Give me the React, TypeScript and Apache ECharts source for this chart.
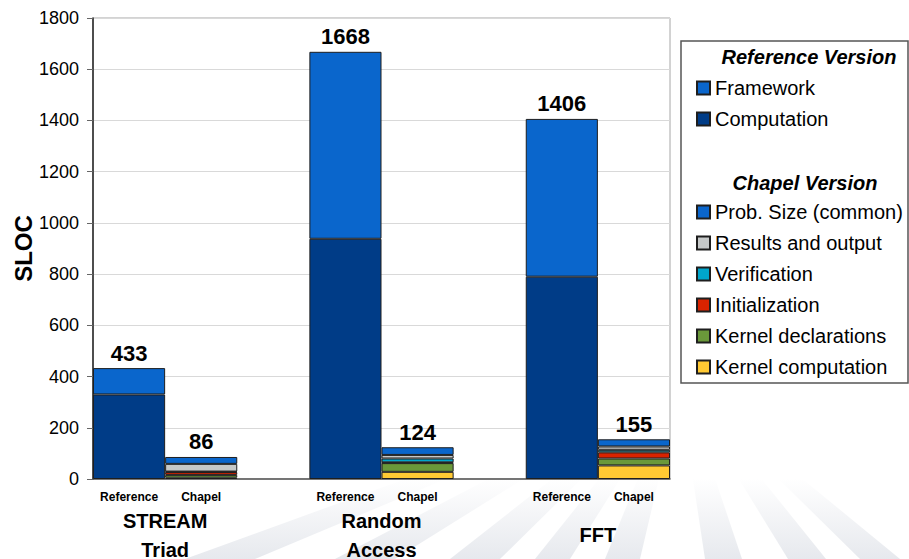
import React, { useEffect, useRef } from "react";
import * as echarts from "echarts";

// ---- data ----
const slotLabels = ["Reference", "Chapel", "", "Reference", "Chapel", "", "Reference", "Chapel"];
const groupNames = ["STREAM\nTriad", "Random\nAccess", "FFT"];
const groupTickValues = [1, 4, 7];
const yMin = 0;
const yMax = 1800;
const yStep = 200;

const refComputation = [330, 938, 790];
const refFramework = [103, 730, 616];

const chapelKernelComputation = [5, 28, 53];
const chapelKernelDeclarations = [11, 34, 27];
const chapelInitialization = [11, 3, 24];
const chapelVerification = [2, 15, 10];
const chapelResults = [30, 14, 13];
const chapelProbSize = [27, 30, 28];

const refLegend = ["Framework", "Computation"];
const chapelLegend = [
  "Prob. Size (common)",
  "Results and output",
  "Verification",
  "Initialization",
  "Kernel declarations",
  "Kernel computation",
];

const FONT = "'Liberation Sans', Arial, Helvetica, sans-serif";

const refTotals = refComputation.map((v, i) => v + refFramework[i]);
const chapelTotals = chapelProbSize.map(
  (v, i) =>
    v +
    chapelResults[i] +
    chapelVerification[i] +
    chapelInitialization[i] +
    chapelKernelDeclarations[i] +
    chapelKernelComputation[i]
);

const toSlots = (vals: number[], offset: number) => {
  const arr: (number | string)[] = slotLabels.map(() => "-");
  vals.forEach((v, g) => {
    arr[g * 3 + offset] = v;
  });
  return arr;
};

const rays: [number, number][] = [
  [185, 255],
  [335, 395],
  [450, 500],
  [535, 570],
  [605, 640],
  [705, 742],
  [788, 826],
  [860, 900],
];

export default function App() {
  const ref = useRef<HTMLDivElement>(null);
  useEffect(() => {
    if (!ref.current) return;
    const chart = echarts.init(ref.current, undefined, { renderer: "svg" });

    const border = { borderColor: "#1e1e1e", borderWidth: 1 };
    const totalLabel = (totals: number[]) => ({
      show: true,
      position: "top",
      distance: 4,
      fontFamily: FONT,
      fontSize: 22,
      fontWeight: "bold",
      color: "#000",
      formatter: (p: any) => String(totals[Math.floor(p.dataIndex / 3)]),
    });

    const mk = (name: string, vals: number[], offset: number, color: string, label?: any) => ({
      name,
      type: "bar",
      stack: "total",
      xAxisIndex: 0,
      barCategoryGap: "0%",
      data: toSlots(vals, offset),
      itemStyle: { color, ...border },
      label: label || { show: false },
      emphasis: { disabled: true },
    });

    const rayFill = {
      type: "linear",
      x: 0,
      y: 0,
      x2: 0,
      y2: 1,
      colorStops: [
        { offset: 0, color: "rgba(214,218,226,0)" },
        { offset: 0.55, color: "rgba(214,218,226,0)" },
        { offset: 1, color: "rgba(214,218,226,0.6)" },
      ],
    };

    const legendText = { fontFamily: FONT, fontSize: 20, color: "#000", lineHeight: 20 };

    const option: any = {
      animation: false,
      backgroundColor: "#fff",
      textStyle: { fontFamily: FONT },
      grid: {
        left: 93,
        right: 239,
        top: 18,
        bottom: 80,
        containLabel: false,
        outerBoundsMode: "none",
        show: true,
        backgroundColor: "#fff",
        borderColor: "#a6a6a6",
        borderWidth: 1,
      },
      legend: [
        {
          data: refLegend,
          orient: "vertical",
          left: 696,
          top: 78,
          padding: 0,
          itemGap: 11,
          itemWidth: 13,
          itemHeight: 13,
          icon: "rect",
          selectedMode: false,
          textStyle: legendText,
        },
        {
          data: chapelLegend,
          orient: "vertical",
          left: 696,
          top: 202,
          padding: 0,
          itemGap: 11,
          itemWidth: 13,
          itemHeight: 13,
          icon: "rect",
          selectedMode: false,
          textStyle: legendText,
        },
      ],
      xAxis: [
        {
          type: "category",
          data: slotLabels,
          axisLine: { lineStyle: { color: "#555", width: 1.5 } },
          axisTick: { show: false },
          axisLabel: {
            interval: 0,
            margin: 12,
            fontFamily: FONT,
            fontSize: 12,
            fontWeight: "bold",
            color: "#000",
          },
        },
        {
          type: "value",
          position: "bottom",
          min: 0,
          max: slotLabels.length,
          interval: 1,
          axisLine: { show: false },
          axisTick: { show: false },
          splitLine: { show: false },
          axisLabel: {
            margin: 27,
            fontFamily: FONT,
            fontSize: 20,
            fontWeight: "bold",
            color: "#000",
            lineHeight: 29,
            showMinLabel: true,
            showMaxLabel: true,
            formatter: (v: number) => {
              const i = groupTickValues.indexOf(Math.round(v));
              if (i < 0) return "";
              const name = groupNames[i];
              return name.indexOf("\n") >= 0 ? name : "{f|" + name + "}";
            },
            rich: {
              f: { fontFamily: FONT, fontSize: 20, fontWeight: "bold", color: "#000", lineHeight: 58 },
            },
          },
        },
      ],
      yAxis: {
        type: "value",
        min: yMin,
        max: yMax,
        interval: yStep,
        name: "SLOC",
        nameLocation: "middle",
        nameRotate: 90,
        nameGap: 58,
        nameMoveOverlap: false,
        nameTextStyle: { fontFamily: FONT, fontSize: 24, fontWeight: "bold", color: "#000" },
        axisLine: { show: true, lineStyle: { color: "#222", width: 1.5 } },
        axisTick: { show: true, length: 6, lineStyle: { color: "#666" } },
        axisLabel: {
          margin: 14,
          fontFamily: FONT,
          fontSize: 18,
          color: "#000",
          formatter: (v: number) => String(v),
        },
        splitLine: { lineStyle: { color: "#d9d9d9", width: 1 } },
      },
      series: [
        mk("Computation", refComputation, 0, "#003C87"),
        mk("Framework", refFramework, 0, "#0A66CC", totalLabel(refTotals)),
        mk("Kernel computation", chapelKernelComputation, 1, "#FFC933"),
        mk("Kernel declarations", chapelKernelDeclarations, 1, "#6A983A"),
        mk("Initialization", chapelInitialization, 1, "#D92300"),
        mk("Verification", chapelVerification, 1, "#00A6CC"),
        mk("Results and output", chapelResults, 1, "#C6C9C9"),
        mk("Prob. Size (common)", chapelProbSize, 1, "#0A66CC", totalLabel(chapelTotals)),
      ],
      graphic: [
        ...rays.map(([a, b]) => ({
          type: "polygon",
          z: -1,
          silent: true,
          shape: { points: [[678, 380], [682, 380], [b, 559], [a, 559]] },
          style: { fill: rayFill },
        })),
        {
          type: "rect",
          z: 1,
          silent: true,
          shape: { x: 681, y: 41, width: 227, height: 342 },
          style: { fill: "#fff", stroke: "#555", lineWidth: 1.5 },
        },
        {
          type: "text",
          z: 2,
          silent: true,
          x: 809,
          y: 57,
          style: {
            text: "Reference Version",
            fontFamily: FONT,
            fontSize: 20,
            fontWeight: "bold",
            fontStyle: "italic",
            fill: "#000",
            align: "center",
            verticalAlign: "middle",
          },
        },
        {
          type: "text",
          z: 2,
          silent: true,
          x: 805,
          y: 183,
          style: {
            text: "Chapel Version",
            fontFamily: FONT,
            fontSize: 20,
            fontWeight: "bold",
            fontStyle: "italic",
            fill: "#000",
            align: "center",
            verticalAlign: "middle",
          },
        },
      ],
    };

    chart.setOption(option);
    return () => chart.dispose();
  }, []);

  return (
    <div
      ref={ref}
      style={{ position: "fixed", left: 0, top: 0, width: 909, height: 559, background: "#fff" }}
    />
  );
}
